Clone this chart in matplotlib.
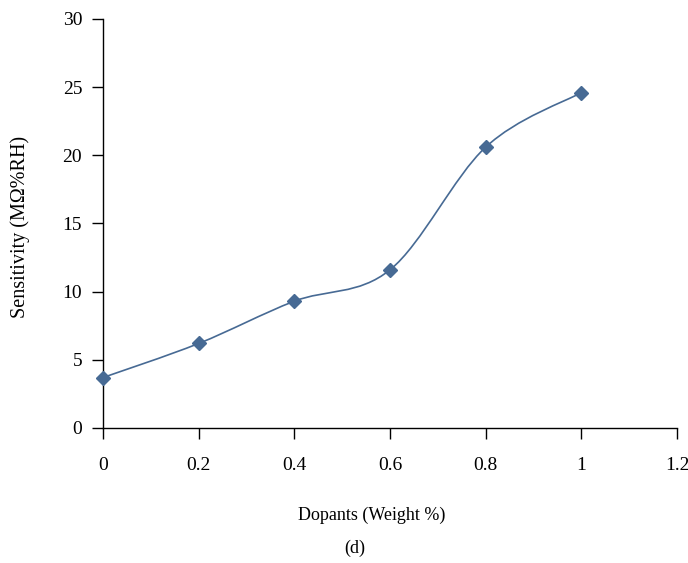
import numpy as np
import matplotlib.pyplot as plt
from matplotlib.path import Path
from matplotlib.patches import PathPatch

# Sensitivity vs dopant concentration
dopants = [0, 0.2, 0.4, 0.6, 0.8, 1.0]
sensitivity = [3.7, 6.2, 9.3, 11.6, 20.6, 24.6]

x_ticks = [0, 0.2, 0.4, 0.6, 0.8, 1, 1.2]
x_tick_labels = ["0", "0.2", "0.4", "0.6", "0.8", "1", "1.2"]
y_ticks = [0, 5, 10, 15, 20, 25, 30]

color = "#476a94"

plt.rcParams['font.family'] = ['Liberation Serif', 'DejaVu Serif']

fig = plt.figure(figsize=(6.88, 5.63), dpi=100)
ax = fig.add_axes([0.1497, 0.2398, 0.8343, 0.7265])

# smoothed line (cubic Bezier through the points, Catmull-Rom style)
pts = np.column_stack([dopants, sensitivity])
ext = np.vstack([pts[0], pts, pts[-1]])
verts = [tuple(pts[0])]
codes = [Path.MOVETO]
for i in range(len(pts) - 1):
    p0, p1, p2, p3 = ext[i], ext[i + 1], ext[i + 2], ext[i + 3]
    c1 = p1 + (p2 - p0) / 6
    c2 = p2 - (p3 - p1) / 6
    verts += [tuple(c1), tuple(c2), tuple(p2)]
    codes += [Path.CURVE4] * 3
ax.add_patch(PathPatch(Path(verts, codes), facecolor="none",
                       edgecolor=color, lw=1.2, zorder=2))

ax.plot(dopants, sensitivity, linestyle="none", marker="D",
        markersize=7, color=color, zorder=3, clip_on=False)

ax.set_xlim(0, 1.2)
ax.set_ylim(0, 30)
ax.set_xticks(x_ticks)
ax.set_xticklabels(x_tick_labels)
ax.set_yticks(y_ticks)

for side in ["top", "right"]:
    ax.spines[side].set_visible(False)
for side in ["left", "bottom"]:
    ax.spines[side].set_linewidth(1.0)

ax.tick_params(axis="x", direction="out", length=8, width=1.0,
               pad=13, labelsize=14)
ax.tick_params(axis="y", direction="out", length=8, width=1.0,
               pad=7, labelsize=14)

fig.text(20 / 688, 1 - 227 / 563, "Sensitivity (MΩ%RH)", fontsize=14.5,
         rotation=90, ha="center", va="center")
fig.text(372 / 688, 1 - 515 / 563, "Dopants (Weight %)", fontsize=13,
         ha="center", va="center")
fig.text(355 / 688, 1 - 548 / 563, "(d)", fontsize=13,
         ha="center", va="center")

fig.savefig("out.png", dpi=100)
plt.close()
